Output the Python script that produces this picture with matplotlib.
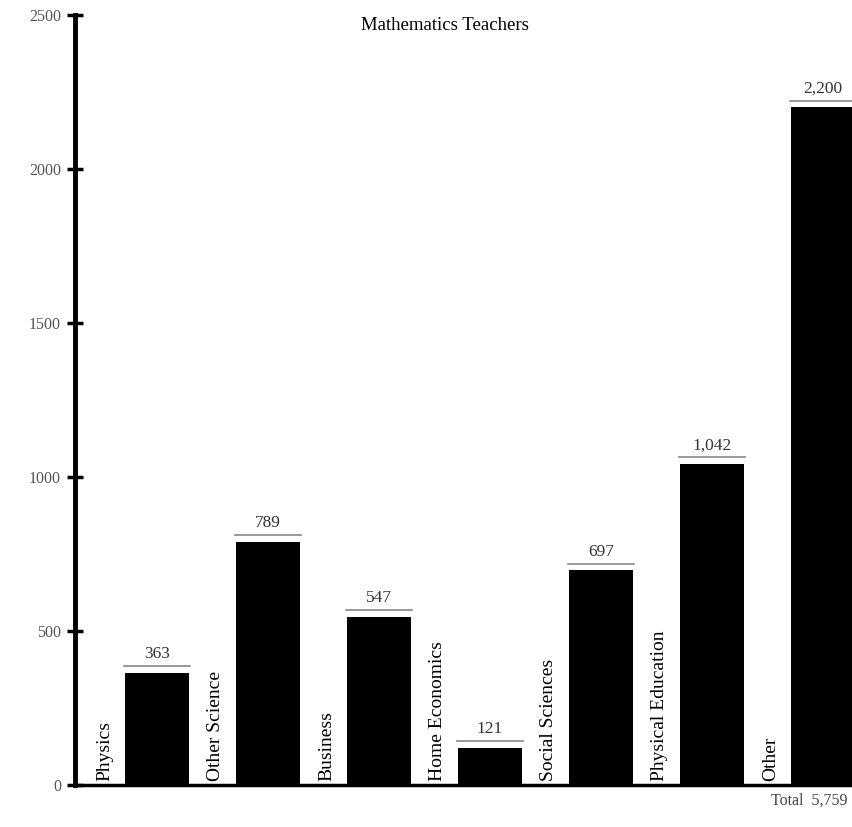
import matplotlib
matplotlib.use("Agg")
import matplotlib.pyplot as plt

subjects = ["Physics", "Other Science", "Business", "Home Economics",
            "Social Sciences", "Physical Education", "Other"]
teachers = [363, 789, 547, 121, 697, 1042, 2200]
yticks = [0, 500, 1000, 1500, 2000, 2500]
total = sum(teachers)

plt.rcParams["font.family"] = ["Liberation Serif", "DejaVu Serif"]

fig = plt.figure(figsize=(8.53, 8.27), dpi=100)
ax = fig.add_axes([75 / 853, 42 / 827, 778 / 853, 770 / 827])

x = list(range(len(subjects)))
ax.bar(x, teachers, width=0.585, color="black", zorder=2)

for xi, name, v in zip(x, subjects, teachers):
    # subject name runs up the left side of each bar
    ax.text(xi - 0.47, 14, name, rotation=90, ha="center", va="bottom",
            fontsize=14, color="black")
    # value with a rule just above the bar
    ax.plot([xi - 0.3, xi + 0.3], [v + 22, v + 22], color="#888888", lw=1.2)
    ax.text(xi, v + 35, f"{v:,}", ha="center", va="bottom", fontsize=12.5,
            color="#333333")

ax.set_xlim(-0.739, 6.27)
ax.set_ylim(0, 2500)
ax.set_yticks(yticks)
ax.set_yticklabels([str(t) for t in yticks], fontsize=11.5, color="#555555")
ax.set_xticks([])
ax.tick_params(axis="y", direction="inout", length=12, width=2.5, pad=4)

for s in ("top", "right"):
    ax.spines[s].set_visible(False)
ax.spines["left"].set_linewidth(3.5)
ax.spines["bottom"].set_linewidth(2.5)

ax.text(0.476, 0.998, "Mathematics Teachers", transform=ax.transAxes,
        ha="center", va="top", fontsize=13.5)
fig.text(0.993, 0.032, f"Total  {total:,}", ha="right", va="center",
         fontsize=11.5, color="#444444")

fig.savefig("out.png", dpi=100)
